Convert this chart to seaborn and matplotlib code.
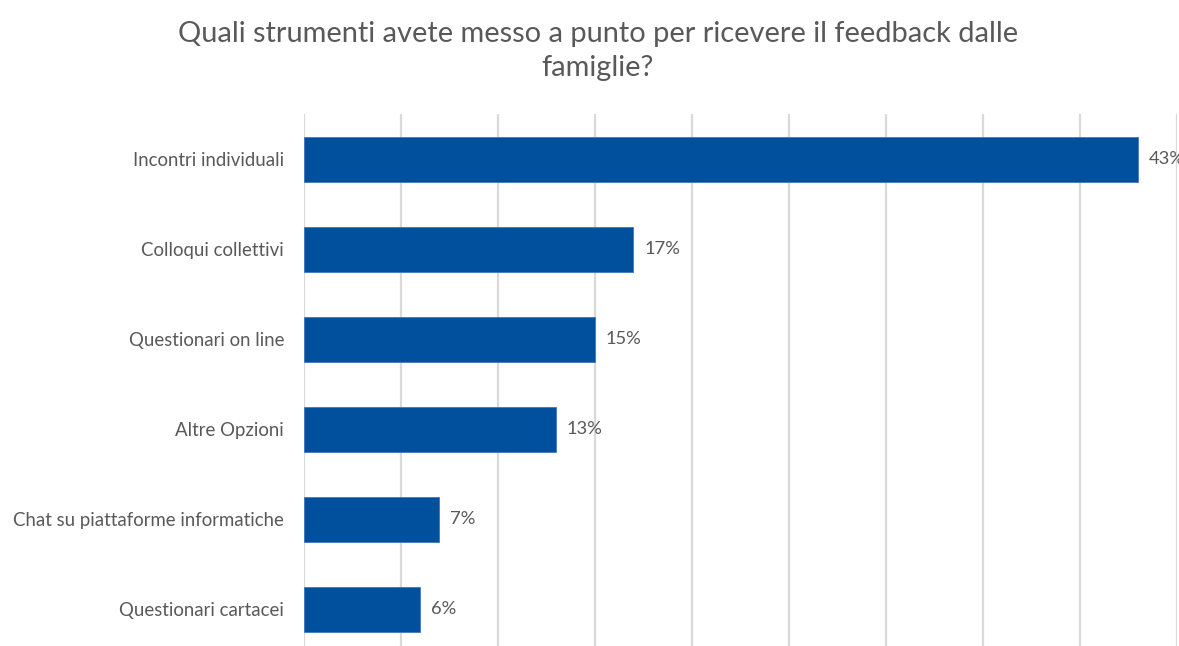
import matplotlib
matplotlib.use("Agg")
import matplotlib.pyplot as plt
import seaborn as sns
import pandas as pd

categories = [
    "Incontri individuali",
    "Colloqui collettivi",
    "Questionari on line",
    "Altre Opzioni",
    "Chat su piattaforme informatiche",
    "Questionari cartacei",
]
percentages = [43, 17, 15, 13, 7, 6]
title = "Quali strumenti avete messo a punto per ricevere il feedback dalle\nfamiglie?"

df = pd.DataFrame({"strumento": categories, "pct": percentages})

sns.set_theme(style="white")
plt.rcParams["font.family"] = ["Lato", "DejaVu Sans"]

text_gray = "#595959"
bar_blue = "#00509E"

fig = plt.figure(figsize=(11.79, 6.46), dpi=100)
ax = fig.add_axes([303.5 / 1179, -8 / 646, 873 / 1179, 540 / 646])

sns.barplot(data=df, y="strumento", x="pct", orient="h", color=bar_blue,
            width=0.5, saturation=1, edgecolor="#3f78bf", linewidth=0.6, ax=ax)

ax.set_xlim(0, 45)
ax.set_ylim(5.5, -0.5)
ax.set_xticks(range(0, 50, 5))
ax.set_xticklabels([])
ax.grid(axis="x", color="#d9d9d9", linewidth=1.6)
ax.set_axisbelow(True)
for s in ax.spines.values():
    s.set_visible(False)
ax.set_xlabel("")
ax.set_ylabel("")
ax.tick_params(axis="y", length=0, pad=14, labelsize=13.4, labelcolor=text_gray)
ax.tick_params(axis="x", length=0)

# value labels sit a fixed few pixels right of each bar end
for i, v in enumerate(percentages):
    ax.annotate(f"{v}%", xy=(v, i), xytext=(8, 0), textcoords="offset points",
                va="center", ha="left", fontsize=13.2, color=text_gray,
                annotation_clip=False)

fig.text(0.507, 0.968, title, ha="center", va="top", fontsize=20.9,
         color=text_gray, linespacing=1.42)

fig.savefig("out.png", dpi=100)
